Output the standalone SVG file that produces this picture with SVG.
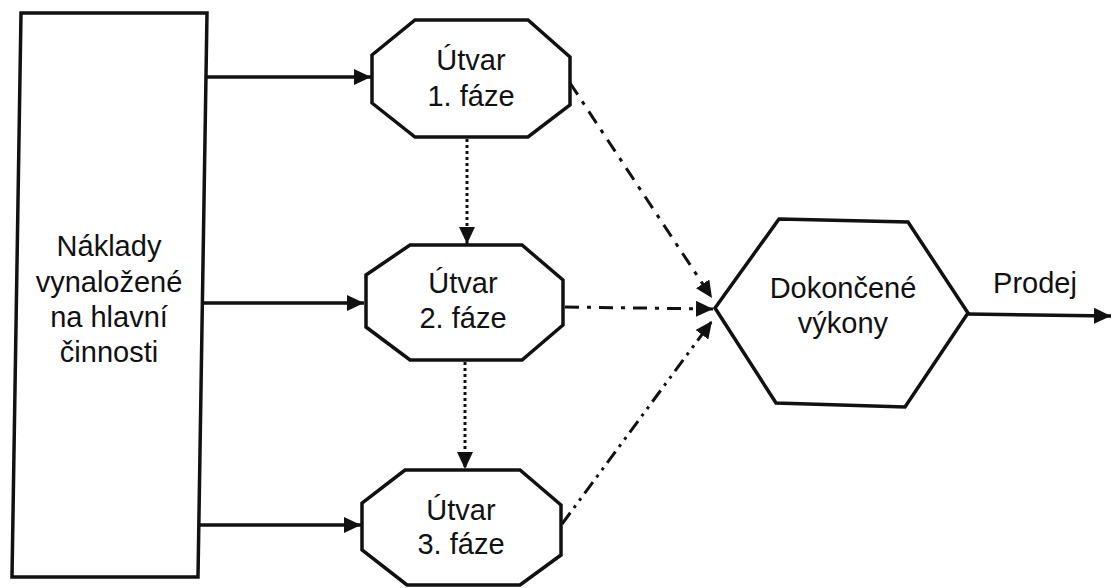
<svg xmlns="http://www.w3.org/2000/svg" width="1112" height="588" viewBox="0 0 1112 588">
<defs>
<marker id="ah" markerUnits="userSpaceOnUse" markerWidth="18" markerHeight="16" refX="17" refY="8" orient="auto">
<path d="M0,0 L17,8 L0,16 z" fill="#111"/>
</marker>
<style>
.shape{fill:#fff;stroke:#111;stroke-width:3.5;stroke-linejoin:miter}
.lbl{font-family:"Liberation Sans",Arial,sans-serif;font-size:29px;fill:#111;text-anchor:middle}
.solid{stroke:#111;stroke-width:3.5;fill:none}
.dot{stroke:#111;stroke-width:3;fill:none;stroke-dasharray:3 3}
.dd{stroke:#111;stroke-width:3;fill:none;stroke-dasharray:14 8 4 8}
.ddd{stroke:#111;stroke-width:3;fill:none;stroke-dasharray:14 6 3 6 3 6}
</style>
</defs>
<rect width="1112" height="588" fill="#fff"/>
<g id="naklady">
<polygon class="shape" points="21,13 207,13 198,577 12,577"/>
<text class="lbl" x="109" y="256">Náklady</text>
<text class="lbl" x="109" y="292">vynaložené</text>
<text class="lbl" x="109" y="327">na hlavní</text>
<text class="lbl" x="109" y="362">činnosti</text>
</g>
<g id="utvar1">
<polygon class="shape" points="415,20 528,20 570,57 570,105 528,137 415,137 372,103 372,55"/>
<text class="lbl" x="471" y="70">Útvar</text>
<text class="lbl" x="471" y="106">1. fáze</text>
</g>
<g id="utvar2">
<polygon class="shape" points="410,245 522,245 563,280 563,325 522,360 410,360 366,327 366,275"/>
<text class="lbl" x="463" y="293">Útvar</text>
<text class="lbl" x="463" y="328">2. fáze</text>
</g>
<g id="utvar3">
<polygon class="shape" points="405,470 520,470 561,505 561,555 520,585 407,585 362,550 362,503"/>
<text class="lbl" x="461" y="520">Útvar</text>
<text class="lbl" x="461" y="554">3. fáze</text>
</g>
<g id="dokoncene">
<polygon class="shape" points="779,219 908,222 968,313 905,407 776,403 715,308"/>
<text class="lbl" x="843" y="298">Dokončené</text>
<text class="lbl" x="843" y="333">výkony</text>
</g>
<g id="connectors">
<line class="solid" x1="207" y1="77" x2="371" y2="77" marker-end="url(#ah)"/>
<line class="solid" x1="202" y1="303" x2="364" y2="303" marker-end="url(#ah)"/>
<line class="solid" x1="198" y1="525" x2="361" y2="525" marker-end="url(#ah)"/>
<line class="dot" x1="467" y1="139" x2="467" y2="244" marker-end="url(#ah)"/>
<line class="dot" x1="465" y1="362" x2="465" y2="469" marker-end="url(#ah)"/>
<line class="dd" x1="570" y1="83" x2="712" y2="298" marker-end="url(#ah)"/>
<line class="dd" x1="565" y1="307" x2="713" y2="309" marker-end="url(#ah)"/>
<line class="ddd" x1="562" y1="524" x2="712" y2="321" marker-end="url(#ah)"/>
<line class="solid" x1="968" y1="314" x2="1111" y2="316" marker-end="url(#ah)"/>
</g>
<g id="prodej-label">
<text class="lbl" x="1035" y="293">Prodej</text>
</g>
</svg>
